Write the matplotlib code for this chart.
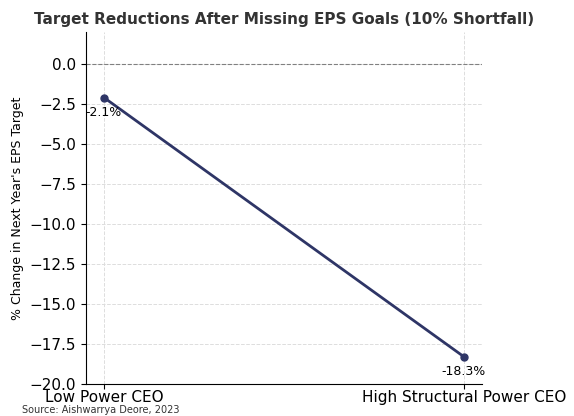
import matplotlib
matplotlib.use('Agg')
from matplotlib import pyplot as plt

CATEGORIES = ['Low Power CEO', 'High Structural Power CEO']
VALUES = [-2.1, -18.3]
LABELS = ['-2.1%', '-18.3%']

fig = plt.figure(figsize=(5.74, 4.16), dpi=100)
ax = fig.add_axes([86 / 574, 32 / 416, 396 / 574, 352 / 416])

x = list(range(len(CATEGORIES)))
ax.plot(x, VALUES, color='#2e3566', linewidth=2, marker='o', markersize=5)
ax.axhline(0, color='gray', linestyle='--', linewidth=0.8)
ax.text(x[0], VALUES[0] - 0.5, LABELS[0], ha='center', va='top', fontsize=9)
ax.text(x[1], VALUES[1] - 0.5, LABELS[1], ha='center', va='top', fontsize=9)

ax.set_xlim(-0.05, 1.05)
ax.set_ylim(-20, 2)
ax.set_xticks(x)
ax.set_xticklabels(CATEGORIES, fontsize=11)
ax.set_yticks([v * -2.5 for v in range(9)])
ax.set_yticklabels(['0.0', '\u22122.5', '\u22125.0', '\u22127.5', '\u221210.0',
                    '\u221212.5', '\u221215.0', '\u221217.5', '\u221220.0'], fontsize=11)
ax.tick_params(axis='x', pad=1)
ax.grid(True, linestyle='--', color='#dddddd', linewidth=0.7)
ax.spines['top'].set_visible(False)
ax.spines['right'].set_visible(False)
ax.set_ylabel("% Change in Next Year's EPS Target", fontsize=9)
ax.set_title('Target Reductions After Missing EPS Goals (10% Shortfall)',
             fontsize=11, fontweight='bold', color='#333333', pad=6)
fig.text(22 / 574, 3 / 416, 'Source: Aishwarrya Deore, 2023', fontsize=7, color='#333333')

fig.savefig('out.png', dpi=100)
